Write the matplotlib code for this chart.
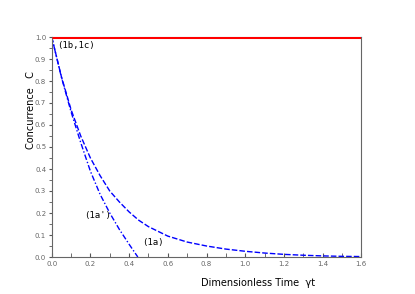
import numpy as np
import matplotlib
matplotlib.use("Agg")
import matplotlib.pyplot as plt
from matplotlib.ticker import MultipleLocator

# values
t_1a = [0.0, 0.05, 0.1, 0.15, 0.2, 0.25, 0.3, 0.35, 0.4, 0.45, 0.5, 0.6, 0.7, 0.8,
        0.9, 1.0, 1.1, 1.2, 1.3, 1.4, 1.5, 1.6]
c_1a = [1.0, 0.82, 0.67, 0.55, 0.45, 0.37, 0.30, 0.25, 0.205, 0.167, 0.138, 0.095,
        0.068, 0.05, 0.036, 0.026, 0.018, 0.012, 0.008, 0.005, 0.003, 0.002]

t_1ap = [0.0, 0.05, 0.1, 0.15, 0.2, 0.25, 0.3, 0.35, 0.4, 0.445]
c_1ap = [1.0, 0.818, 0.66, 0.52, 0.39, 0.285, 0.20, 0.125, 0.058, 0.0]

t_1b = [0.0, 1.6]
c_1b = [1.0, 1.0]

fig = plt.figure(figsize=(4.15, 2.94), dpi=100)
ax = fig.add_axes([51.7 / 415, 1 - 257 / 294, 309.6 / 415, 220 / 294])

ax.plot(t_1b, c_1b, color="red", lw=2.2, solid_capstyle="butt", zorder=3)
ax.plot(t_1a, c_1a, color="blue", lw=1, ls=(0, (4, 1.5)))
ax.plot(t_1ap, c_1ap, color="blue", lw=1, ls=(0, (4, 1.5, 1, 1.5)))

mono = "DejaVu Sans Mono"
ax.text(0.03, 0.962, "(1b,1c)", fontsize=6.5, va="center", ha="left", family=mono)
ax.text(0.17, 0.19, "(1a')", fontsize=6.5, va="center", ha="left", family=mono)
ax.text(0.465, 0.065, "(1a)", fontsize=6.5, va="center", ha="left", family=mono)

ax.set_xlim(0, 1.6)
ax.set_ylim(0, 1.0)
ax.xaxis.set_major_locator(MultipleLocator(0.2))
ax.xaxis.set_minor_locator(MultipleLocator(0.1))
ax.yaxis.set_major_locator(MultipleLocator(0.1))
ax.yaxis.set_minor_locator(MultipleLocator(0.05))

for s in ax.spines.values():
    s.set_color("#666666")
    s.set_linewidth(0.8)
ax.tick_params(axis="x", which="both", direction="in", length=3, color="#555555",
               labelsize=5, labelcolor="#666666", pad=3)
ax.tick_params(axis="y", which="both", direction="out", length=2.5, color="#555555",
               labelsize=5, labelcolor="#666666", pad=1.5)

ax.set_xlabel("Dimensionless Time  \u03b3t", fontsize=7)
ax.set_ylabel("Concurrence   C", fontsize=7)
ax.xaxis.set_label_coords(0.666, -0.095)
ax.yaxis.set_label_coords(-0.05, 0.668)

fig.savefig("out.png", dpi=100)
